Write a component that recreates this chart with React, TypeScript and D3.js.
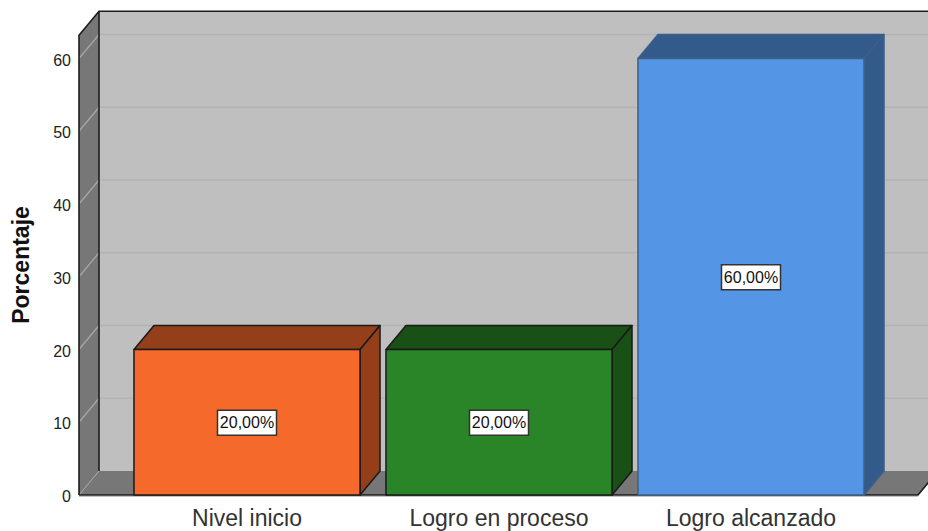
import React from "react";
import * as d3 from "d3";

const categories = ["Nivel inicio", "Logro en proceso", "Logro alcanzado"];
const values = [20, 20, 60];
const valueLabels = ["20,00%", "20,00%", "60,00%"];
const frontColors = ["#f5692b", "#2a8529", "#5495e5"];
const sideColors = ["#943f19", "#195016", "#325b8c"];
const strokeColors = ["#1a1a1a", "#1a1a1a", "#3f5f85"];
const yTicks = [0, 10, 20, 30, 40, 50, 60];

const W = 928;
const H = 531;
const DX = 20;
const DY = -24;
const y = d3.scaleLinear().domain([0, 60]).range([495, 58.5]);
const x = d3.scaleBand<string>().domain(categories).range([121, 877]).paddingInner(0.103).paddingOuter(0.0515);
const FONT = "'Liberation Sans', Arial, sans-serif";
const poly = (p: [number, number][]) => p.map((a) => a.join(",")).join(" ");

export default function App() {
  const yTop = y(63.2);
  const left = 79;
  const right = 918;
  const y0 = y(0);
  return (
    <svg width={W} height={H} viewBox={`0 0 ${W} ${H}`} style={{ position: "absolute", left: 0, top: 0, background: "#fff" }} fontFamily={FONT}>
      {/* back wall */}
      <rect x={left + DX} y={yTop + DY} width={W} height={y0 - yTop} fill="#bfbfbf" />
      {/* left wall */}
      <polygon points={poly([[left, yTop], [left + DX, yTop + DY], [left + DX, y0 + DY], [left, y0]])} fill="#777777" />
      {/* floor */}
      <polygon points={poly([[left, y0], [right, y0], [right + DX, y0 + DY], [left + DX, y0 + DY]])} fill="#777777" />
      {/* gridlines */}
      {yTicks.slice(1).map((t) => (
        <g key={t}>
          <line x1={left + DX} x2={W} y1={y(t) + DY} y2={y(t) + DY} stroke="#b3b3b3" strokeWidth={1.5} />
          <line x1={left} x2={left + DX} y1={y(t)} y2={y(t) + DY} stroke="#a8a8a8" strokeWidth={1.2} />
        </g>
      ))}
      <line x1={left} x2={left + DX} y1={y0} y2={y0 + DY} stroke="#a8a8a8" strokeWidth={1} />
      {/* frame */}
      <path d={`M${left},${y0} V${yTop} L${left + DX},${yTop + DY} H${W}`} fill="none" stroke="#1c1c1c" strokeWidth={1.6} />
      <line x1={left + DX} x2={left + DX} y1={yTop + DY} y2={y0 + DY} stroke="#1c1c1c" strokeWidth={1.6} />
      <path d={`M${left},${y0} H${right} L${right + DX},${y0 + DY}`} fill="none" stroke="#1c1c1c" strokeWidth={1.6} />
      <line x1={left} x2={right} y1={y0 + 1.5} y2={y0 + 1.5} stroke="#c4c4c4" strokeWidth={1} />
      {/* y ticks */}
      {yTicks.map((t) => (
        <text key={t} x={71} y={y(t) + 1.5} dy="0.35em" textAnchor="end" fontSize={16} fill="#222">{t}</text>
      ))}
      <text transform="translate(23,265) rotate(-90)" textAnchor="middle" dominantBaseline="middle" fontSize={23} fontWeight="bold" fill="#111">Porcentaje</text>
      {/* bars */}
      {categories.map((c, i) => {
        const bx = x(c)!;
        const bw = x.bandwidth();
        const by = y(values[i]);
        return (
          <g key={c} stroke={strokeColors[i]} strokeWidth={1.5} strokeLinejoin="round">
            <polygon points={poly([[bx, by], [bx + DX, by + DY], [bx + bw + DX, by + DY], [bx + bw, by]])} fill={sideColors[i]} />
            <polygon points={poly([[bx + bw, by], [bx + bw + DX, by + DY], [bx + bw + DX, y0 + DY], [bx + bw, y0]])} fill={sideColors[i]} />
            <rect x={bx} y={by} width={bw} height={y0 - by} fill={frontColors[i]} />
          </g>
        );
      })}
      {/* value labels */}
      {categories.map((c, i) => {
        const cx = x(c)! + x.bandwidth() / 2;
        const cy = y(values[i] / 2);
        return (
          <g key={c}>
            <rect x={cx - 29.5} y={cy - 12} width={59} height={25} fill="#fff" stroke="#333" strokeWidth={1.5} />
            <text x={cx} y={cy + 0.5} dy="0.35em" textAnchor="middle" fontSize={16} fill="#111">{valueLabels[i]}</text>
          </g>
        );
      })}
      {/* category labels */}
      {categories.map((c) => (
        <text key={c} x={x(c)! + x.bandwidth() / 2} y={526} textAnchor="middle" fontSize={23} fill="#333">{c}</text>
      ))}
    </svg>
  );
}
